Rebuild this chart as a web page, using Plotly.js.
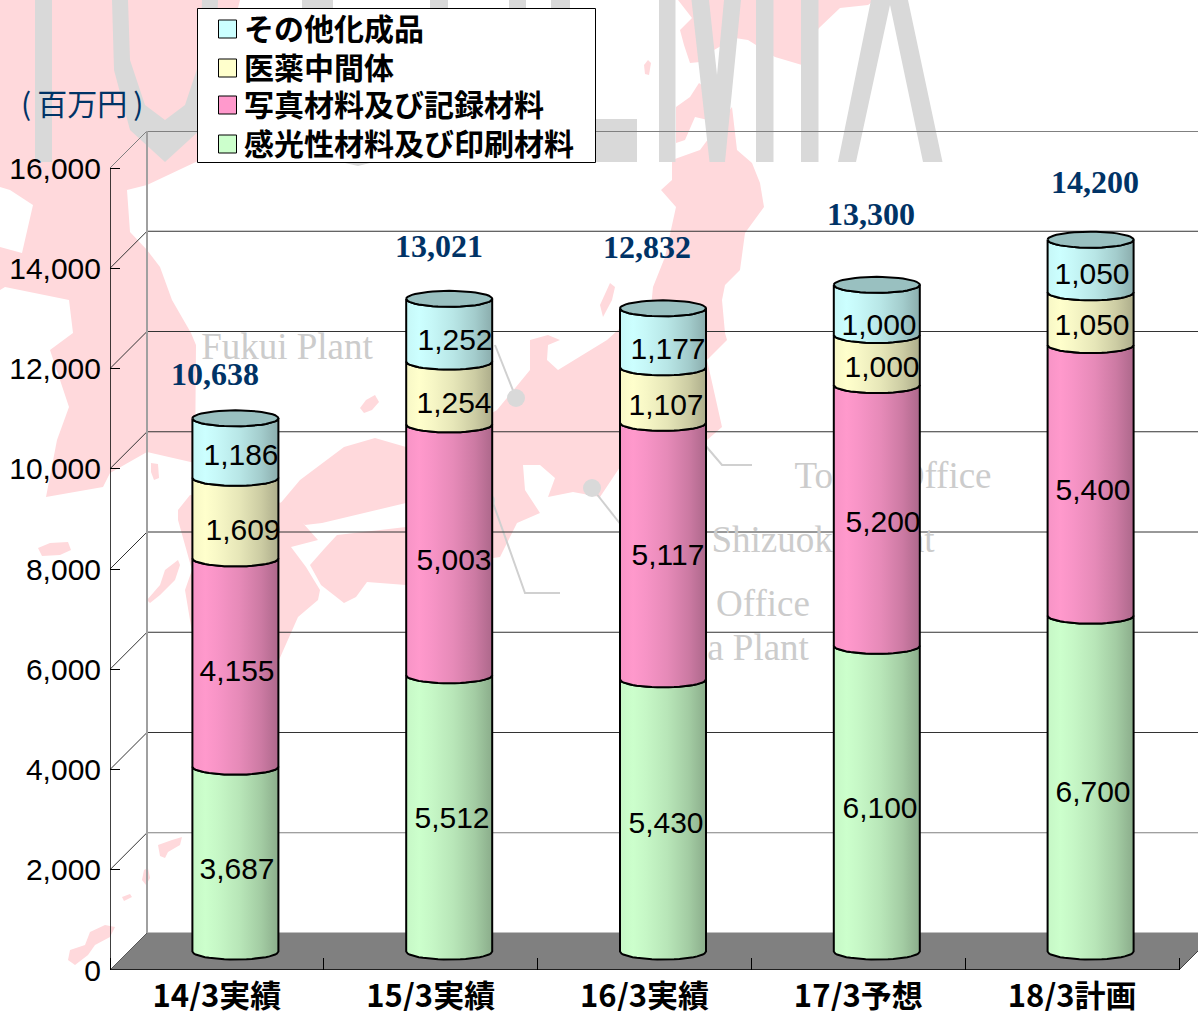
<!DOCTYPE html>
<html><head><meta charset="utf-8">
<script src="https://cdn.plot.ly/plotly-3.0.1.min.js"></script>
<style>html,body{margin:0;padding:0;background:#fff}</style></head>
<body><div id="chart" style="width:1198px;height:1011px"></div>
<script>
// ---------- data ----------
const categories = ['14/3実績','15/3実績','16/3実績','17/3予想','18/3計画'];
const photoResist = [3687,5512,5430,6100,6700];   // 感光性材料及び印刷材料
const photoRecord = [4155,5003,5117,5200,5400];   // 写真材料及び記録材料
const pharma      = [1609,1254,1107,1000,1050];   // 医薬中間体
const others      = [1186,1252,1177,1000,1050];   // その他化成品
const totals      = [10638,13021,12832,13300,14200];
const seriesNames = ['感光性材料及び印刷材料','写真材料及び記録材料','医薬中間体','その他化成品'];
const yTicks = [0,2000,4000,6000,8000,10000,12000,14000,16000];
const yTickText = ['0','2,000','4,000','6,000','8,000','10,000','12,000','14,000','16,000'];

// ---------- styling ----------
const colors = [[204,255,204],[255,153,204],[255,255,204],[204,255,255]];
const capColor = '#99c0c0';
const W=1198,H=1011,L=110,T=131,B=970,catPx=213.8,vPx=802/16000,depth=37;
const xmax=(W-L)/catPx, ymax=(B-T)/vPx;
const X=p=>(p-L)/catPx, Y=p=>(B-p)/vPx;
const dx=depth/catPx/2, dy=depth/vPx/2, halfW=43/catPx, sag=8/vPx;
const PX=p=>(p-L)/(W-L), PY=p=>(B-p)/(B-T);

// label pixel placement (x,y) per series
const labelX=[[237,452,666,880,1093],[237,454,668,883,1093],[243,454,666,882,1092],[241,455,668,879,1092]];
const labelY=[[871,820,825,810,794],[673,562,557,524,492],[532,405,407,369,327],[457,342,351,327,276]];
const totalX=[215,439,647,871,1095], totalY=[377,249,250,217,185];
const legendRowY=[144,105,68,29];

// background artwork, in page pixels
const letters=[
 [[35,0],[52,0],[52,162],[35,162]],
 [[112,0],[128,0],[130,60],[145,105],[165,120],[185,105],[200,60],[202,0],[218,0],[216,70],[200,130],[165,162],[130,130],[114,70]],
 [[302,0],[333,0],[333,162],[302,162]],
 [[345,150],[370,150],[370,163],[358,166],[345,163]],
 [[430,0],[448,0],[448,162],[430,162]],[[509,0],[526,0],[526,162],[509,162]],
 [[551,0],[570,0],[570,119],[637,119],[637,162],[551,162]],
 [[659,0],[675.5,0],[675.5,162],[659,162]],
 [[691.5,0],[709,0],[717,75],[724,0],[741,0],[725,162],[709.5,162]],
 [[756,0],[773.5,0],[773.5,162],[756,162]],[[801,0],[818.5,0],[818.5,162],[801,162]],
 [[871,0],[908,0],[942.5,162],[923,162],[890,5],[856,162],[838,162]]
];
const land=[
 // continent
 [[0,0],[240,0],[200,160],[147,185],[127,190],[130,232],[147,250],[160,267],[172,300],[191,333],[196,345],[195,463],[147,452],[110,473],[103,487],[46,497],[57,440],[69,407],[50,350],[73,333],[69,300],[5,287],[0,290],[0,247],[22,253],[33,205],[10,190],[0,187]],
 // Hokkaido
 [[678,0],[692,18],[680,30],[684,45],[690,63],[700,62],[714,50],[735,38],[748,40],[775,57],[802,65],[812,40],[819,28],[840,8],[868,5],[875,0]],
 [[676,107],[690,97],[699,83],[708,90],[708,120],[695,117],[685,140],[676,143]],
 // Honshu
 [[672,160],[700,150],[732,107],[737,150],[752,163],[760,183],[764,207],[745,233],[740,270],[725,285],[722,300],[725,333],[727,340],[707,360],[722,427],[707,440],[690,445],[620,467],[600,497],[573,492],[548,497],[555,478],[540,465],[523,465],[525,490],[540,513],[517,523],[500,557],[480,560],[470,530],[406,503],[322,523],[305,525],[279,505],[300,480],[344,447],[375,438],[406,447],[440,430],[480,420],[497,410],[530,370],[530,340],[548,335],[560,340],[548,345],[547,360],[558,370],[607,340],[640,310],[650,317],[653,287],[665,257],[676,207],[661,190],[672,180]],
 // Kyushu
 [[178,510],[190,495],[285,503],[318,540],[291,547],[306,567],[320,590],[318,600],[298,617],[279,660],[270,695],[230,700],[195,650],[185,590],[192,570],[178,520]],
 // Shikoku
 [[310,565],[325,548],[337,535],[406,527],[480,560],[406,585],[367,582],[356,597],[344,603],[321,585]],
 // islands
 [[147,600],[160,585],[165,570],[178,560],[180,565],[175,580],[160,595],[150,603]],
 [[38,548],[50,543],[68,542],[71,550],[60,555],[42,556]],
 [[151,463],[158,464],[159,478],[154,480],[151,472]],
 [[360,408],[366,400],[375,395],[379,402],[372,410],[364,413]],
 [[600,305],[610,283],[615,287],[612,300],[603,317]],
 [[644,65],[648,60],[651,63],[649,75],[645,74]],
 [[158,845],[172,840],[182,837],[180,845],[168,852],[165,858],[160,856]],
 [[142,880],[144,870],[148,868],[150,878],[146,885]],
 [[122,897],[130,894],[132,897],[124,901]],
 [[68,960],[70,950],[85,945],[90,932],[105,925],[115,927],[110,937],[95,945],[88,955],[75,965]]
];
const leaders=[
 [[495,345],[516,398]],
 [[492,500],[525,593],[560,593]],
 [[592,488],[625,530]],
 [[705,445],[722,465],[752,465]]
];
const dots=[[516,398],[592,488],[486,501]];
const wallText=[
 ['Fukui Plant',287,350],['Tokyo Office',893,479],['Shizuoka Plant',823,543],['Office',763,607],['a Plant',758,651]
];

// ---------- helpers ----------
const poly=pts=>pts.map((p,i)=>(i?'L':'M')+PX(p[0])+','+PY(p[1])).join('')+'Z';
const shapes=[];
land.forEach(p=>shapes.push({type:'path',xref:'paper',yref:'paper',path:poly(p),fillcolor:'#ffd9dc',line:{width:0},layer:'below'}));
letters.forEach(p=>shapes.push({type:'path',xref:'paper',yref:'paper',path:poly(p),fillcolor:'#d9d9d9',line:{width:0},layer:'below'}));
leaders.forEach(p=>shapes.push({type:'path',xref:'paper',yref:'paper',path:p.map((q,i)=>(i?'L':'M')+PX(q[0])+','+PY(q[1])).join(''),line:{color:'#d0d0d0',width:2},layer:'below'}));
dots.forEach(d=>shapes.push({type:'circle',xref:'paper',yref:'paper',x0:PX(d[0]-9),x1:PX(d[0]+9),y0:PY(d[1]+9),y1:PY(d[1]-9),fillcolor:'#d9d9d9',line:{width:0},layer:'below'}));
// box: back wall grid, left wall diagonals, floor, axis lines
const depX=depth/catPx, depY=depth/vPx;
yTicks.forEach(v=>{
  const g=v===16000||v===2000||v===0?'#808080':'#333333';
  shapes.push({type:'line',xref:'x',yref:'y',x0:depX,x1:xmax,y0:v+depY,y1:v+depY,line:{color:g,width:v===16000?2:1},layer:'below'});
  shapes.push({type:'line',xref:'x',yref:'y',x0:0,x1:depX,y0:v,y1:v+depY,line:{color:v===16000?'#808080':'#333333',width:1},layer:'below'});
});
shapes.push({type:'line',xref:'x',yref:'y',x0:depX,x1:depX,y0:depY,y1:16000+depY,line:{color:'#a0a0a0',width:2},layer:'below'});
shapes.push({type:'path',xref:'x',yref:'y',layer:'below',fillcolor:'#808080',line:{width:0},
  path:`M0,0L${depX},${depY}L${xmax},${depY}L${xmax},${(xmax-5)*catPx/vPx}L5,0Z`});
shapes.push({type:'line',xref:'x',yref:'y',x0:0,x1:0,y0:0,y1:16000,line:{color:'#000',width:1.5},layer:'above'});
shapes.push({type:'line',xref:'x',yref:'y',x0:0,x1:5,y0:0,y1:0,line:{color:'#000',width:1.5},layer:'above'});
shapes.push({type:'line',xref:'x',yref:'y',x0:5,x1:xmax,y0:0,y1:(xmax-5)*catPx/vPx,line:{color:'#404040',width:1},layer:'below'});
// legend frame and keys
shapes.push({type:'rect',xref:'paper',yref:'paper',x0:PX(197.5),x1:PX(595.5),y0:PY(162.5),y1:PY(8.5),fillcolor:'#fff',line:{color:'#000',width:1},layer:'above'});
const legendAnn=[];
seriesNames.forEach((n,s)=>{
  const yc=legendRowY[s];
  shapes.push({type:'rect',xref:'paper',yref:'paper',x0:PX(218.5),x1:PX(236.5),y0:PY(yc+9),y1:PY(yc-9),fillcolor:`rgb(${colors[s].join(',')})`,line:{color:'#000',width:1},layer:'above'});
  legendAnn.push({xref:'paper',yref:'paper',x:PX(242),y:PY(yc-2),text:n,showarrow:false,xanchor:'left',yanchor:'middle',
    font:{family:'Noto Sans CJK JP',size:30,color:'#000',weight:'bold'}});
});

const shade=(c,f)=>`rgb(${c.map(v=>Math.round(v*f)).join(',')})`;
const scale=c=>[[0,shade(c,.97)],[.15,shade(c,1)],[.3,shade(c,.97)],[.55,shade(c,.9)],[.8,shade(c,.8)],[1,shade(c,.68)]];
const series=[photoResist,photoRecord,pharma,others];
const centers=categories.map((_,i)=>i+.5+dx);

function arc(cx,base,dir,sign){ // dir 1: left→right, -1: right→left; sign -1 lower, +1 upper
  const out=[];
  for(let k=0;k<=24;k++){
    const a=Math.PI*k/24, t=-Math.cos(a)*dir;
    out.push([cx+halfW*t, base+sign*sag*Math.sin(a)]);
  }
  return out;
}

const traces=[];
// wall captions sit behind the cylinders
wallText.forEach(t=>traces.push({type:'scatter',mode:'text',x:[X(t[1])],y:[Y(t[2])],text:[t[0]],textposition:'middle center',
  textfont:{family:'Liberation Serif',size:37,color:'#cccccc'},showlegend:false,hoverinfo:'skip',cliponaxis:false}));

// stacked bars
const cum=categories.map(()=>dy);
series.forEach((vals,s)=>{
  const base=cum.slice();
  traces.push({type:'bar',x:centers,y:vals,base:base,width:halfW*2,name:seriesNames[s],showlegend:false,
    marker:{color:`rgb(${colors[s].join(',')})`,line:{width:0}},hoverinfo:'skip'});
  vals.forEach((v,i)=>{
    const b0=base[i], b1=b0+v;
    const pts=[...arc(centers[i],b1,1,-1),...arc(centers[i],b0,-1,-1)];
    pts.push(pts[0]);
    traces.push({type:'scatter',mode:'lines',x:pts.map(p=>p[0]),y:pts.map(p=>p[1]),fill:'toself',
      fillgradient:{type:'horizontal',colorscale:scale(colors[s])},
      line:{color:'#000',width:2},showlegend:false,hoverinfo:'skip'});
    cum[i]=b1;
  });
});
// cylinder caps
categories.forEach((_,i)=>{
  const pts=[...arc(centers[i],cum[i],1,-1),...arc(centers[i],cum[i],-1,1)];
  pts.push(pts[0]);
  traces.push({type:'scatter',mode:'lines',x:pts.map(p=>p[0]),y:pts.map(p=>p[1]),fill:'toself',fillcolor:capColor,
    line:{color:'#000',width:2},showlegend:false,hoverinfo:'skip'});
});
// value labels
series.forEach((vals,s)=>traces.push({type:'scatter',mode:'text',x:labelX[s].map(X),y:labelY[s].map(Y),
  text:vals.map(v=>v.toLocaleString('en-US')),textposition:'middle center',
  textfont:{family:'Liberation Sans',size:30,color:'#000'},showlegend:false,hoverinfo:'skip'}));
// totals
traces.push({type:'scatter',mode:'text',x:totalX.map(X),y:totalY.map(Y),text:totals.map(v=>v.toLocaleString('en-US')),
  textposition:'middle center',textfont:{family:'Liberation Serif',size:32,color:'#003366',weight:'bold'},showlegend:false,hoverinfo:'skip'});

const layout={
  width:W,height:H,autosize:false,paper_bgcolor:'#fff',plot_bgcolor:'rgba(0,0,0,0)',barmode:'overlay',showlegend:false,
  margin:{l:L,r:0,t:T,b:H-B,pad:0,autoexpand:false},hovermode:false,
  font:{family:'Liberation Sans'},
  xaxis:{range:[0,xmax],tickmode:'array',tickvals:categories.map((_,i)=>i+.5),ticktext:categories,ticks:'',showgrid:false,zeroline:false,showline:false,
    tickfont:{family:'Noto Sans CJK JP',size:31,color:'#000',weight:'bold'},ticklabelstandoff:5,
    minor:{tickmode:'array',tickvals:[0,1,2,3,4,5],ticks:'inside',ticklen:12,tickcolor:'#000',tickwidth:1,showgrid:false}},
  yaxis:{range:[0,ymax],tickmode:'array',tickvals:yTicks,ticktext:yTickText,ticks:'inside',ticklen:10,tickcolor:'#000',tickwidth:1,
    showgrid:false,zeroline:false,showline:false,tickfont:{family:'Liberation Sans',size:30,color:'#000'},ticklabelstandoff:8},
  shapes:shapes,
  annotations:[{xref:'paper',yref:'paper',x:PX(82),y:PY(102),text:'(\u2009百万円\u2009)',showarrow:false,xanchor:'center',yanchor:'middle',
    font:{family:'Noto Sans CJK JP',size:30,color:'#003366'}}].concat(legendAnn)
};
Plotly.newPlot('chart',traces,layout,{staticPlot:true,displayModeBar:false});
</script></body></html>
